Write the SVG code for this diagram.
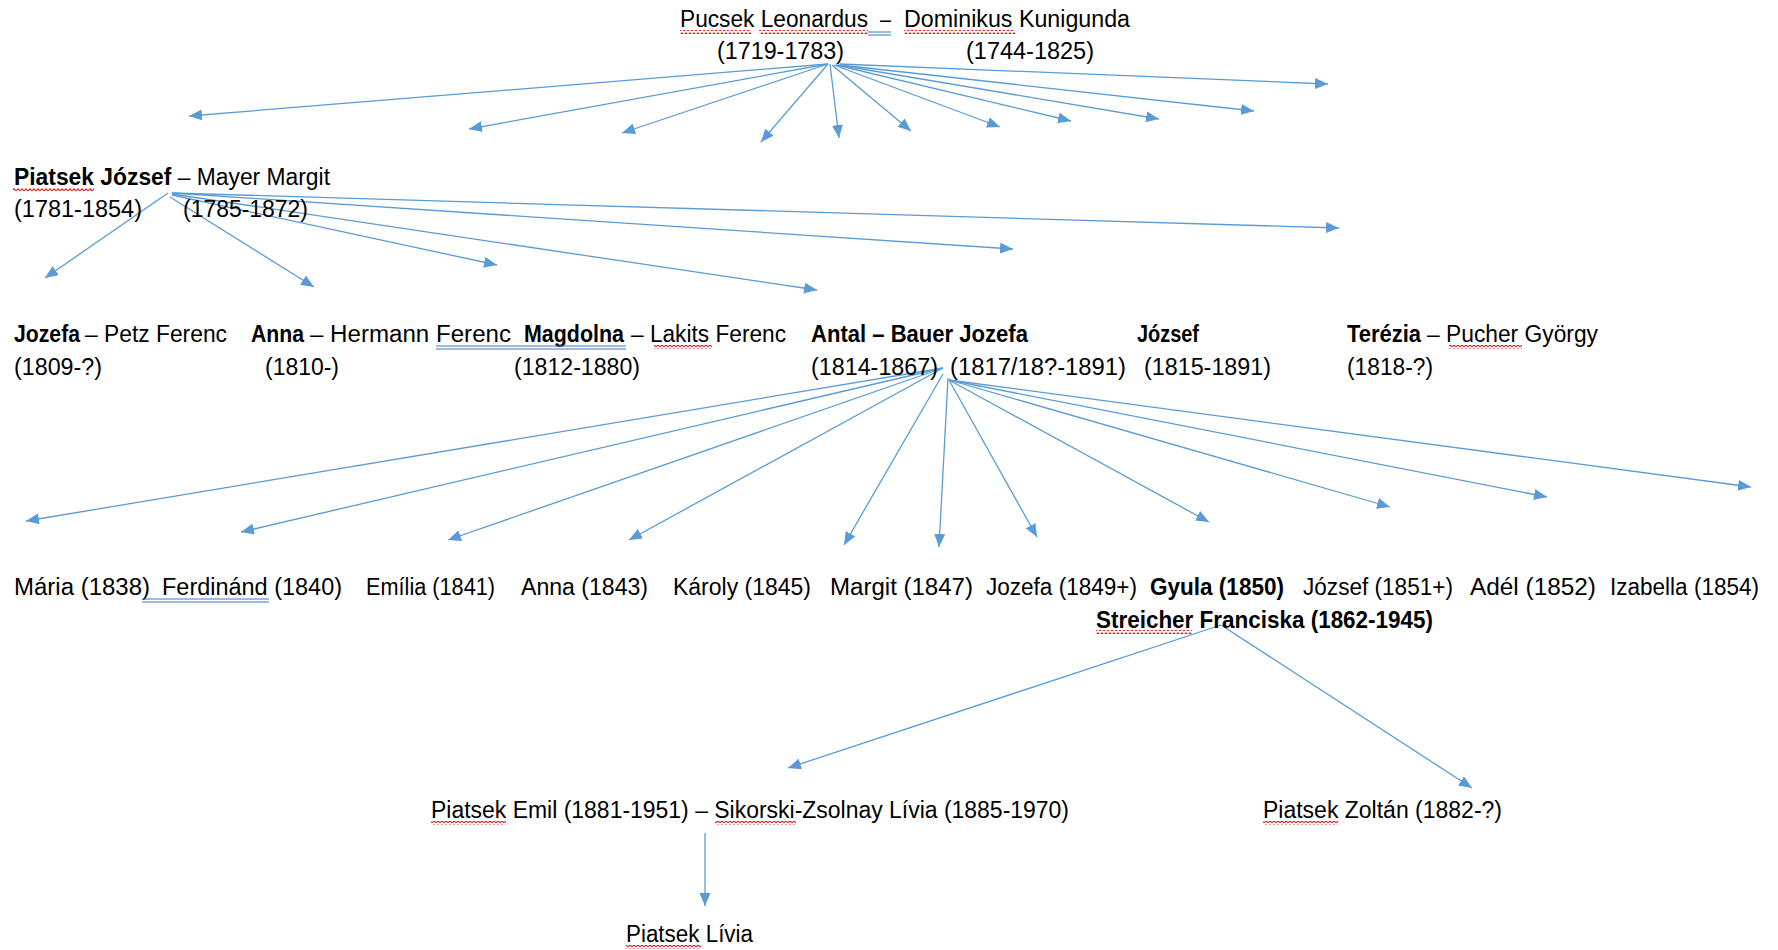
<svg xmlns="http://www.w3.org/2000/svg" width="1778" height="950" viewBox="0 0 1778 950">
<style>
text{font-family:"Liberation Sans",Arial,sans-serif;font-size:23px;fill:#000}
.b{font-weight:bold}
.con line{stroke:#5B9BD5;stroke-width:1.3;marker-end:url(#ah)}
.sq{fill:url(#wave)}
.du{stroke:#4472C4;stroke-width:1}
</style>
<defs>
<marker id="ah" markerUnits="userSpaceOnUse" markerWidth="14" markerHeight="11" refX="13" refY="5.5" orient="auto">
<path d="M0,0 L13,5.5 L0,11 z" fill="#5B9BD5"/>
</marker>
<pattern id="wave" patternUnits="userSpaceOnUse" width="4" height="4">
<path d="M0,3 L2,0.8 L4,3" fill="none" stroke="#E02020" stroke-width="1.1"/>
</pattern>
</defs>
<rect width="1778" height="950" fill="#fff"/>

<g id="connectors" class="con">
<line x1="828" y1="64" x2="189" y2="116"/>
<line x1="828" y1="64" x2="469" y2="129"/>
<line x1="828" y1="64" x2="622" y2="133"/>
<line x1="828" y1="64" x2="761" y2="142"/>
<line x1="830" y1="64" x2="839" y2="138"/>
<line x1="832" y1="65" x2="911" y2="131"/>
<line x1="834" y1="65" x2="1000" y2="127"/>
<line x1="836" y1="65" x2="1071" y2="121"/>
<line x1="838" y1="65" x2="1159" y2="119"/>
<line x1="840" y1="65" x2="1254" y2="111"/>
<line x1="840" y1="64" x2="1328" y2="84"/>

<line x1="168" y1="193" x2="45" y2="278"/>
<line x1="170" y1="197" x2="314" y2="287"/>
<line x1="172" y1="195" x2="497" y2="265"/>
<line x1="172" y1="194" x2="817" y2="290"/>
<line x1="172" y1="193" x2="1013" y2="249"/>
<line x1="172" y1="193" x2="1339" y2="228"/>

<line x1="943" y1="368" x2="26" y2="521"/>
<line x1="943" y1="368" x2="241" y2="532"/>
<line x1="943" y1="368" x2="448" y2="540"/>
<line x1="943" y1="368" x2="629" y2="540"/>
<line x1="943" y1="374" x2="844" y2="545"/>
<line x1="948" y1="378" x2="939" y2="547"/>
<line x1="949" y1="380" x2="1037" y2="537"/>
<line x1="949" y1="380" x2="1209" y2="522"/>
<line x1="949" y1="380" x2="1390" y2="507"/>
<line x1="949" y1="380" x2="1547" y2="497"/>
<line x1="949" y1="380" x2="1751" y2="487"/>

<line x1="1221" y1="625" x2="788" y2="768"/>
<line x1="1221" y1="625" x2="1472" y2="788"/>

<line x1="705" y1="833" x2="705" y2="906"/>
</g>

<g id="n-pucsek-dominikus">
<text x="680" y="27" textLength="188" lengthAdjust="spacingAndGlyphs">Pucsek Leonardus</text>
<text x="880" y="27" textLength="11" lengthAdjust="spacingAndGlyphs">–</text>
<text x="904" y="27" textLength="226" lengthAdjust="spacingAndGlyphs">Dominikus Kunigunda</text>
<text x="717" y="59" textLength="127" lengthAdjust="spacingAndGlyphs">(1719-1783)</text>
<text x="966" y="59" textLength="128" lengthAdjust="spacingAndGlyphs">(1744-1825)</text>
<rect class="sq" x="680" y="30" width="71" height="4"/>
<rect class="sq" x="759" y="30" width="109" height="4"/>
<rect class="sq" x="904" y="30" width="111" height="4"/>
<line class="du" x1="868" y1="32" x2="891" y2="32"/>
<line class="du" x1="868" y1="35" x2="891" y2="35"/>
</g>

<g id="n-piatsek-jozsef">
<text x="14" y="185" textLength="316" lengthAdjust="spacingAndGlyphs"><tspan class="b">Piatsek József</tspan> – Mayer Margit</text>
<text x="14" y="217" textLength="128" lengthAdjust="spacingAndGlyphs">(1781-1854)</text>
<text x="183" y="217" textLength="125" lengthAdjust="spacingAndGlyphs">(1785-1872)</text>
<rect class="sq" x="13" y="188" width="81" height="4"/>
</g>

<g id="n-jozefa">
<text class="b" x="14" y="342" textLength="66" lengthAdjust="spacingAndGlyphs">Jozefa</text>
<text x="85" y="342" textLength="142" lengthAdjust="spacingAndGlyphs">– Petz Ferenc</text>
<text x="14" y="375" textLength="88" lengthAdjust="spacingAndGlyphs">(1809-?)</text>
</g>

<g id="n-anna">
<text class="b" x="251" y="342" textLength="53" lengthAdjust="spacingAndGlyphs">Anna</text>
<text x="310" y="342" textLength="201" lengthAdjust="spacingAndGlyphs">– Hermann Ferenc</text>
<text x="265" y="375" textLength="74" lengthAdjust="spacingAndGlyphs">(1810-)</text>
</g>

<g id="n-magdolna">
<text class="b" x="524" y="342" textLength="100" lengthAdjust="spacingAndGlyphs">Magdolna</text>
<text x="631" y="342" textLength="155" lengthAdjust="spacingAndGlyphs">– Lakits Ferenc</text>
<text x="514" y="375" textLength="126" lengthAdjust="spacingAndGlyphs">(1812-1880)</text>
<rect class="sq" x="654" y="345" width="58" height="4"/>
<line class="du" x1="436" y1="346" x2="626" y2="346"/>
<line class="du" x1="436" y1="349" x2="626" y2="349"/>
</g>

<g id="n-antal">
<text class="b" x="811" y="342" textLength="217" lengthAdjust="spacingAndGlyphs">Antal – Bauer Jozefa</text>
<text x="811" y="375" textLength="127" lengthAdjust="spacingAndGlyphs">(1814-1867)</text>
<text x="950" y="375" textLength="176" lengthAdjust="spacingAndGlyphs">(1817/18?-1891)</text>
</g>

<g id="n-jozsef-1815">
<text class="b" x="1137" y="342" textLength="62" lengthAdjust="spacingAndGlyphs">József</text>
<text x="1144" y="375" textLength="127" lengthAdjust="spacingAndGlyphs">(1815-1891)</text>
</g>

<g id="n-terezia">
<text class="b" x="1347" y="342" textLength="74" lengthAdjust="spacingAndGlyphs">Terézia</text>
<text x="1427" y="342" textLength="171" lengthAdjust="spacingAndGlyphs">– Pucher György</text>
<text x="1347" y="375" textLength="86" lengthAdjust="spacingAndGlyphs">(1818-?)</text>
<rect class="sq" x="1449" y="345" width="73" height="4"/>
</g>

<g id="n-maria"><text x="14" y="595" textLength="136" lengthAdjust="spacingAndGlyphs">Mária (1838)</text></g>
<g id="n-ferdinand">
<text x="162" y="595" textLength="180" lengthAdjust="spacingAndGlyphs">Ferdinánd (1840)</text>
<line class="du" x1="142" y1="599" x2="269" y2="599"/>
<line class="du" x1="142" y1="602" x2="269" y2="602"/>
</g>
<g id="n-emilia"><text x="366" y="595" textLength="129" lengthAdjust="spacingAndGlyphs">Emília (1841)</text></g>
<g id="n-anna-1843"><text x="521" y="595" textLength="127" lengthAdjust="spacingAndGlyphs">Anna (1843)</text></g>
<g id="n-karoly"><text x="673" y="595" textLength="138" lengthAdjust="spacingAndGlyphs">Károly (1845)</text></g>
<g id="n-margit"><text x="830" y="595" textLength="143" lengthAdjust="spacingAndGlyphs">Margit (1847)</text></g>
<g id="n-jozefa-1849"><text x="986" y="595" textLength="151" lengthAdjust="spacingAndGlyphs">Jozefa (1849+)</text></g>
<g id="n-gyula">
<text class="b" x="1150" y="595" textLength="134" lengthAdjust="spacingAndGlyphs">Gyula (1850)</text>
<text class="b" x="1096" y="628" textLength="337" lengthAdjust="spacingAndGlyphs">Streicher Franciska (1862-1945)</text>
<rect class="sq" x="1096" y="630" width="96" height="4"/>
</g>
<g id="n-jozsef-1851"><text x="1303" y="595" textLength="150" lengthAdjust="spacingAndGlyphs">József (1851+)</text></g>
<g id="n-adel"><text x="1470" y="595" textLength="126" lengthAdjust="spacingAndGlyphs">Adél (1852)</text></g>
<g id="n-izabella"><text x="1610" y="595" textLength="149" lengthAdjust="spacingAndGlyphs">Izabella (1854)</text></g>

<g id="n-emil">
<text x="431" y="818" textLength="638" lengthAdjust="spacingAndGlyphs">Piatsek Emil (1881-1951) – Sikorski-Zsolnay Lívia (1885-1970)</text>
<rect class="sq" x="431" y="821" width="75" height="4"/>
<rect class="sq" x="715" y="821" width="81" height="4"/>
</g>

<g id="n-zoltan">
<text x="1263" y="818" textLength="239" lengthAdjust="spacingAndGlyphs">Piatsek Zoltán (1882-?)</text>
<rect class="sq" x="1263" y="821" width="75" height="4"/>
</g>

<g id="n-livia">
<text x="626" y="942" textLength="127" lengthAdjust="spacingAndGlyphs">Piatsek Lívia</text>
<rect class="sq" x="626" y="945" width="75" height="4"/>
</g>
</svg>
